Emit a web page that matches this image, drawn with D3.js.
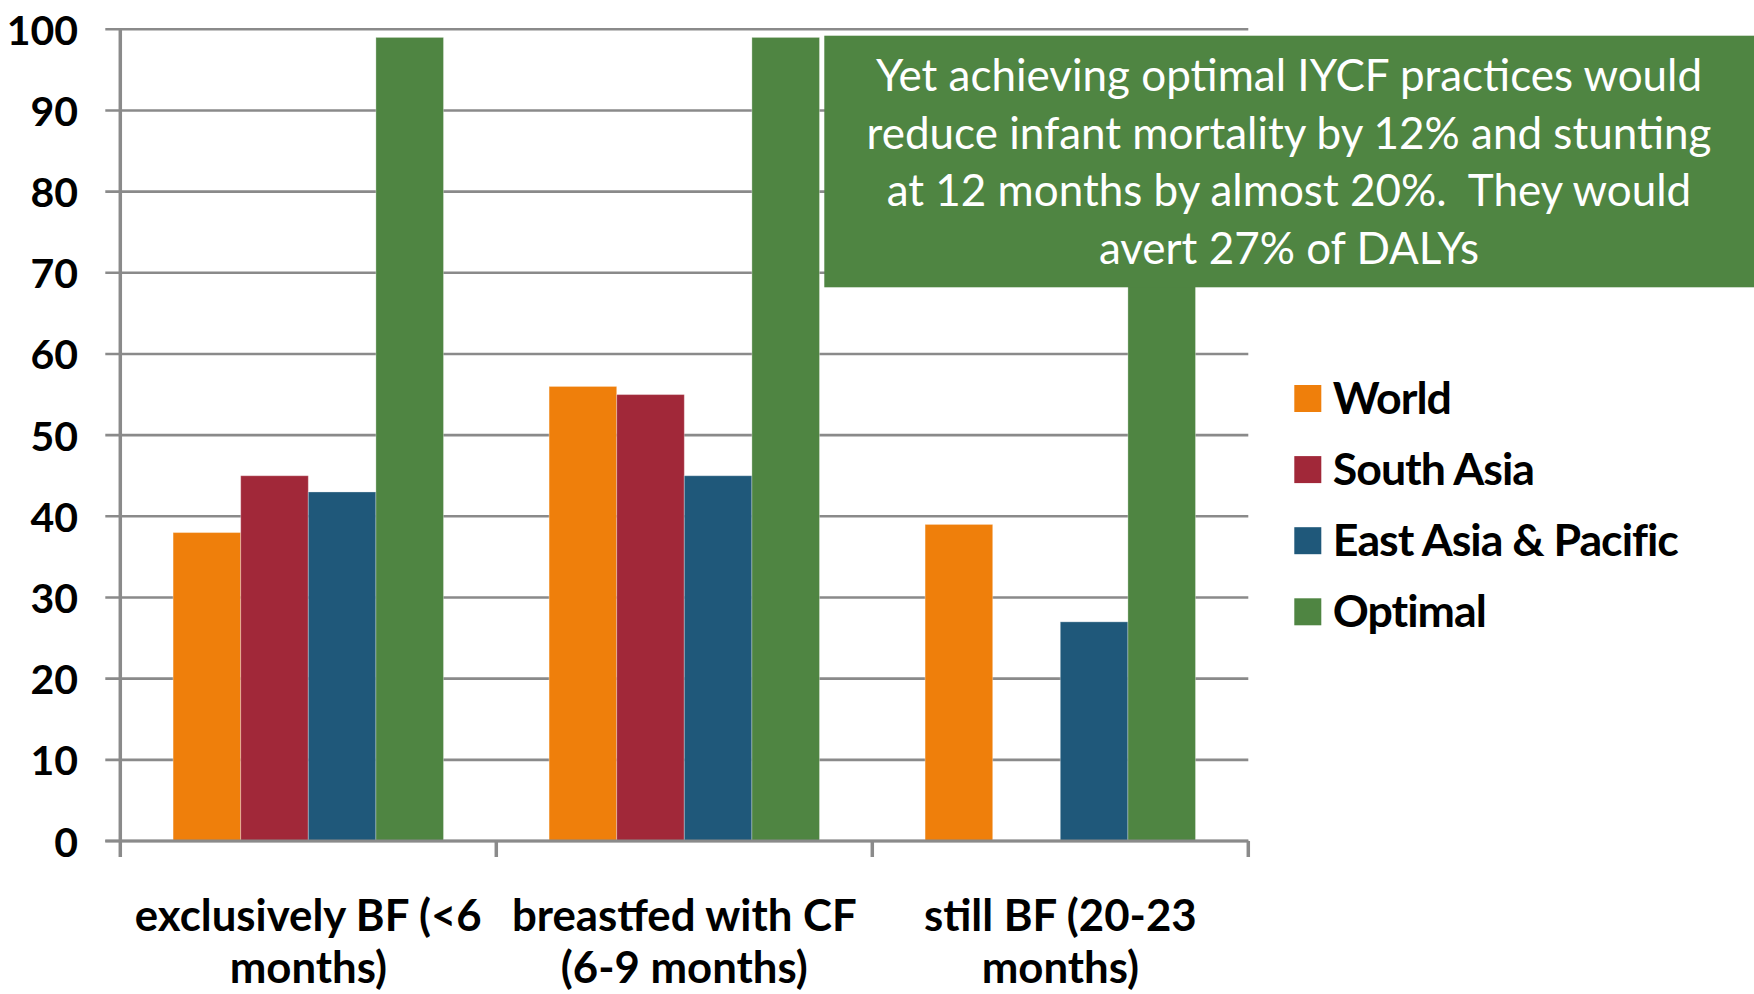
<!DOCTYPE html>
<html>
<head>
<meta charset="utf-8">
<script src="https://cdn.jsdelivr.net/npm/d3@7"></script>
<style>
  html, body { margin: 0; padding: 0; background: #ffffff; }
  svg { display: block; }
  text { font-family: "Gill Sans", "Lato", "Open Sans", sans-serif; white-space: pre; }
</style>
</head>
<body>
<svg id="chart" width="1754" height="994"></svg>
<script>
// ---- data ----
const categories = ["exclusively BF (<6 months)", "breastfed with CF (6-9 months)", "still BF (20-23 months)"];
const categoryLines = [["exclusively BF (<6", "months)"], ["breastfed with CF", "(6-9 months)"], ["still BF (20-23", "months)"]];
const seriesNames = ["World", "South Asia", "East Asia & Pacific", "Optimal"];
const worldValues = [38, 56, 39];
const southAsiaValues = [45, 55, null];
const eastAsiaValues = [43, 45, 27];
const optimalValues = [99, 99, 99];
const yTicks = [0, 10, 20, 30, 40, 50, 60, 70, 80, 90, 100];
const calloutLines = [
  "Yet achieving optimal IYCF practices would",
  "reduce infant mortality by 12% and stunting",
  "at 12 months by almost 20%.  They would",
  "avert 27% of DALYs"
];
const colors = ["#EF7F0B", "#A12839", "#1F587A", "#4F8542"];

const seriesValues = [worldValues, southAsiaValues, eastAsiaValues, optimalValues];

// ---- layout ----
const svg = d3.select("#chart");
const plotLeft = 120.3, plotRight = 1248.3, plotTop = 29.3, plotBottom = 841;
const gridColor = "#8a8a8a";

const x0 = d3.scaleBand().domain(categories).range([plotLeft, plotRight]).paddingInner(0).paddingOuter(0);
const x1 = d3.scaleBand().domain(seriesNames).range([0, x0.bandwidth()]).paddingInner(0).paddingOuter(0.781);
const y = d3.scaleLinear().domain([0, 100]).range([plotBottom, plotTop]);
const color = d3.scaleOrdinal().domain(seriesNames).range(colors);

// gridlines
svg.append("g").selectAll("line").data(yTicks).join("line")
  .attr("x1", plotLeft - 15).attr("x2", plotRight)
  .attr("y1", d => y(d)).attr("y2", d => y(d))
  .attr("stroke", gridColor).attr("stroke-width", 2.6);

// y tick labels
svg.append("g").selectAll("text").data(yTicks).join("text")
  .attr("x", 78).attr("y", d => y(d))
  .attr("text-anchor", "end").attr("dominant-baseline", "central")
  .attr("font-size", 41).attr("font-weight", 700).attr("fill", "#000")
  .text(d => d);

// bars
const barData = [];
categories.forEach((c, ci) => {
  seriesNames.forEach((s, si) => {
    const v = seriesValues[si][ci];
    if (v !== null && v !== undefined) barData.push({ cat: c, series: s, value: v });
  });
});
svg.append("g").selectAll("rect").data(barData).join("rect")
  .attr("x", d => x0(d.cat) + x1(d.series))
  .attr("y", d => y(d.value))
  .attr("width", x1.bandwidth())
  .attr("height", d => y(0) - y(d.value))
  .attr("fill", d => color(d.series))
  .attr("stroke", "rgba(255,255,255,0.3)").attr("stroke-width", 1);

// axes lines
svg.append("line").attr("x1", plotLeft).attr("x2", plotLeft).attr("y1", plotTop).attr("y2", plotBottom + 16)
  .attr("stroke", gridColor).attr("stroke-width", 3.5);
svg.append("line").attr("x1", plotLeft - 15).attr("x2", plotRight).attr("y1", plotBottom).attr("y2", plotBottom)
  .attr("stroke", gridColor).attr("stroke-width", 3);
const boundaries = categories.map(c => x0(c)).concat([x0(categories[categories.length - 1]) + x0.bandwidth()]);
svg.append("g").selectAll("line").data(boundaries.slice(1)).join("line")
  .attr("x1", d => d).attr("x2", d => d).attr("y1", plotBottom).attr("y2", plotBottom + 16)
  .attr("stroke", gridColor).attr("stroke-width", 3.5);

// category labels
function fitGroup(texts, refNode, target) {
  const w = refNode.getComputedTextLength();
  const fs = parseFloat(d3.select(refNode).attr("font-size"));
  texts.attr("font-size", fs * target / w);
}
const catG = svg.append("g");
const catTexts = catG.selectAll("text").data(categories).join("text")
  .attr("x", d => x0(d) + x0.bandwidth() / 2)
  .attr("y", 931)
  .attr("text-anchor", "middle")
  .attr("font-size", 40).attr("font-weight", 700).attr("fill", "#000");
catTexts.each(function(d, i) {
  const t = d3.select(this);
  categoryLines[i].forEach((line, li) => {
    t.append("tspan").attr("x", x0(d) + x0.bandwidth() / 2).attr("y", 931 + li * 52).text(line);
  });
});
{
  const ref = catTexts.nodes()[0].firstChild;
  const w = ref.getComputedTextLength();
  catTexts.attr("font-size", 40 * 347 / w);
}

// legend
const legend = svg.append("g");
const legendItems = legend.selectAll("g").data(seriesNames).join("g")
  .attr("transform", (d, i) => `translate(1294.3, ${398.5 + i * 71.1})`);
legendItems.append("rect").attr("x", 0).attr("y", -13.5).attr("width", 27).attr("height", 27)
  .attr("fill", d => color(d));
const legendTexts = legendItems.append("text").attr("x", 38.5).attr("y", -2)
  .attr("dominant-baseline", "central")
  .attr("font-size", 40).attr("font-weight", 700).attr("fill", "#000")
  .attr("letter-spacing", -1)
  .text(d => d);
fitGroup(legendTexts, legendTexts.nodes()[2], 343);

// callout box
const box = svg.append("g");
box.append("rect").attr("x", 824.3).attr("y", 35.7).attr("width", 1754 - 824.3).attr("height", 287.3 - 35.7)
  .attr("fill", "#4F8542");
const calloutTexts = box.selectAll("text").data(calloutLines).join("text")
  .attr("x", 1289).attr("y", (d, i) => 91 + i * 57.5)
  .attr("text-anchor", "middle")
  .attr("font-size", 40).attr("fill", "#ffffff")
  .text(d => d);
fitGroup(calloutTexts, calloutTexts.nodes()[1], 845);
</script>
</body>
</html>
